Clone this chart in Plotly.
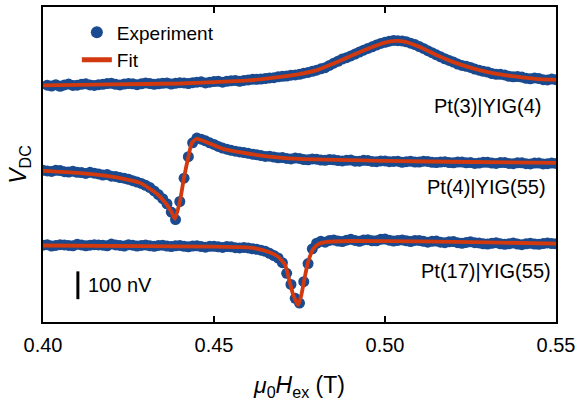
import numpy as np
import plotly.graph_objects as go

# ---------------- data (field in T, signal in nV) ----------------
offsets = {"c1": 850, "c2": 543, "c3": 275}
labels = ["Pt(3)|YIG(4)", "Pt(4)|YIG(55)", "Pt(17)|YIG(55)"]

# measurement grid: 0.40 ... 0.55 T, 1.25 mT steps (121 points)
field = np.round(np.linspace(0.40, 0.55, 121), 5)

# Pt(3)|YIG(4)  (first grid point not measured)
y1_exp = [None,
          1, -2, 3, -3, 2, 5, 0, 1, 4, 6, 2, 0, 3, 4, 7, 8, 4, 2, 5, 7,
          6, 3, 6, 9, 7, 4, 6, 8, 9, 5, 8, 10, 9, 7, 10, 12, 13, 9, 12, 14,
          15, 12, 15, 17, 18, 15, 18, 20, 22, 22, 23, 25, 27, 28, 31, 33, 34, 37, 38, 40,
          44, 47, 51, 55, 60, 64, 72, 80, 87, 95, 100, 106, 113, 120, 127, 133, 139, 145, 151, 155,
          159, 162, 161, 160, 157, 152, 147, 140, 133, 125, 118, 110, 103, 96, 90, 84, 77, 72, 69, 65,
          59, 55, 51, 48, 43, 40, 40, 38, 33, 31, 32, 30, 26, 24, 27, 25, 21, 20, 23, 21]
x1_fit = [0.40, 0.42, 0.44, 0.45, 0.46, 0.47, 0.475, 0.48, 0.487, 0.49, 0.495, 0.50,
          0.503, 0.506, 0.51, 0.516, 0.52, 0.525, 0.53, 0.535, 0.54, 0.545, 0.55]
y1_fit = [0, 4, 7, 12, 18, 32, 41, 55, 90, 106, 132, 154,
          160, 157, 139, 104, 84, 64, 48, 37, 29, 23, 20]

# Pt(4)|YIG(55)
y2_exp = [2,
          0, -2, 2, 1, -3, -4, -1, -5, -6, -9, -5, -8, -11, -15, -13, -19, -20, -24, -26, -30,
          -35, -40, -45, -52, -60, -72, -85, -100, -118, -148, -175, -110, -26, 51, 101, 118, 114, 108, 101, 95,
          88, 82, 78, 74, 71, 68, 66, 63, 60, 58, 55, 52, 53, 50, 47, 48, 45, 43, 46, 45,
          41, 40, 43, 42, 39, 38, 41, 40, 37, 36, 38, 39, 35, 35, 38, 37, 34, 33, 36, 36,
          33, 34, 35, 31, 33, 35, 32, 32, 35, 34, 31, 30, 32, 33, 30, 29, 32, 32, 29, 30,
          27, 28, 31, 31, 28, 27, 30, 30, 27, 26, 29, 29, 26, 25, 28, 28, 25, 26, 28, 27]
x2_fit = [0.40, 0.41, 0.4187, 0.425, 0.4284, 0.4333, 0.436, 0.4375, 0.4386, 0.4401,
          0.4412, 0.4425, 0.4435, 0.4449, 0.4475, 0.4526, 0.4626, 0.475, 0.50, 0.525, 0.55]
y2_fit = [0, -7, -18, -32, -43, -82, -118, -146, -172, -105,
          -26, 50, 100, 115, 105, 79, 57, 43, 36, 32, 29]

# Pt(17)|YIG(55)
y3_exp = [1,
          3, -2, 0, 3, 2, 0, -1, 4, 2, -1, 1, 3, 2, 1, -1, 5, 2, 0, -2, 3,
          1, -2, 0, 2, -1, -3, 0, 1, -2, -4, -1, 0, -3, -5, -2, -1, -4, -6, -3, -3,
          -5, -7, -4, -5, -8, -9, -7, -9, -12, -14, -17, -21, -28, -36, -45, -62, -100, -140, -190, -207,
          -130, -65, -12, 8, 15, 12, 18, 20, 16, 14, 19, 22, 18, 15, 20, 21, 17, 17, 22, 23,
          19, 16, 18, 20, 17, 14, 18, 18, 15, 12, 15, 16, 12, 10, 13, 14, 10, 8, 11, 13,
          10, 9, 6, 5, 8, 10, 6, 4, 6, 9, 5, 3, 6, 8, 5, 4, 7, 9, 7, 6]
x3_fit = [0.40, 0.43, 0.45, 0.458, 0.462, 0.4664, 0.4687, 0.4708, 0.4716, 0.4731,
          0.4746, 0.4755, 0.4766, 0.4775, 0.4789, 0.4805, 0.483, 0.49, 0.51, 0.53, 0.55]
y3_fit = [0, -2, -4, -6, -10, -25, -40, -70, -105, -175,
          -214, -180, -110, -60, -15, 5, 13, 16, 15, 11, 7]

scale_bar_nV = 100
x_ticks = [0.40, 0.45, 0.50, 0.55]
tick_text = ["0.40", "0.45", "0.50", "0.55"]

# ---------------- figure ----------------
BLUE = "#1a4a8f"
RED = "#d2390f"
FONT = "Arial, Liberation Sans, sans-serif"
FS = 20


def shifted(vals, off):
    return [None if v is None else v + off for v in vals]


fig = go.Figure()
sets = [
    (y1_exp, x1_fit, y1_fit, offsets["c1"]),
    (y2_exp, x2_fit, y2_fit, offsets["c2"]),
    (y3_exp, x3_fit, y3_fit, offsets["c3"]),
]
for i, (ye, xf, yf, off) in enumerate(sets):
    fig.add_trace(go.Scatter(
        x=field, y=shifted(ye, off), mode="markers",
        marker=dict(color=BLUE, size=11, line=dict(width=0)),
        name="Experiment", showlegend=(i == 0), legendrank=1))
for i, (ye, xf, yf, off) in enumerate(sets):
    fig.add_trace(go.Scatter(
        x=xf, y=shifted(yf, off), mode="lines",
        line=dict(color=RED, width=3.8, shape="spline", smoothing=0.5),
        name="Fit", showlegend=(i == 0), legendrank=2, cliponaxis=False))

# scale bar (100 nV)
sb_x = 0.4102
sb_y0 = 82
fig.add_trace(go.Scatter(x=[sb_x, sb_x], y=[sb_y0, sb_y0 + scale_bar_nV], mode="lines",
                         line=dict(color="black", width=3), showlegend=False))
fig.add_annotation(x=0.4125, y=sb_y0 + scale_bar_nV / 2, text="100 nV", showarrow=False,
                   xanchor="left", yanchor="middle", font=dict(size=FS, color="black"))

# sample labels
lab_pos = [(0.5462, 850 - 74), (0.5476, 543 - 57), (0.5492, 275 - 93)]
for t, (lx, ly) in zip(labels, lab_pos):
    fig.add_annotation(x=lx, y=ly, text=t, showarrow=False, xanchor="right",
                       yanchor="middle", font=dict(size=FS, color="black"))

fig.update_layout(
    width=581, height=401,
    margin=dict(l=43, r=25, t=5, b=79),
    plot_bgcolor="white", paper_bgcolor="white",
    font=dict(family=FONT, size=FS, color="black"),
    legend=dict(x=0.066, y=0.98, xanchor="left", yanchor="top",
                bgcolor="rgba(0,0,0,0)", font=dict(size=19), tracegroupgap=0,
                itemsizing="constant"),
    showlegend=True,
)
fig.update_xaxes(range=[0.40, 0.55], tickvals=x_ticks, ticktext=tick_text,
                 ticks="inside", ticklen=6, tickwidth=1.5, tickcolor="black",
                 showline=True, linecolor="black", linewidth=1.5, mirror="ticks",
                 showgrid=False, zeroline=False, ticklabelstandoff=4,
                 title=dict(text="<i>μ</i><sub>0</sub><i>H</i><sub>ex</sub> (T)",
                            font=dict(size=23), standoff=23))
fig.update_yaxes(range=[0, 1132], showticklabels=False, ticks="",
                 showline=True, linecolor="black", linewidth=1.5, mirror=True,
                 showgrid=False, zeroline=False,
                 title=dict(text="<i>V</i><sub>DC</sub>", font=dict(size=23), standoff=8))

fig.write_html("out.html")
